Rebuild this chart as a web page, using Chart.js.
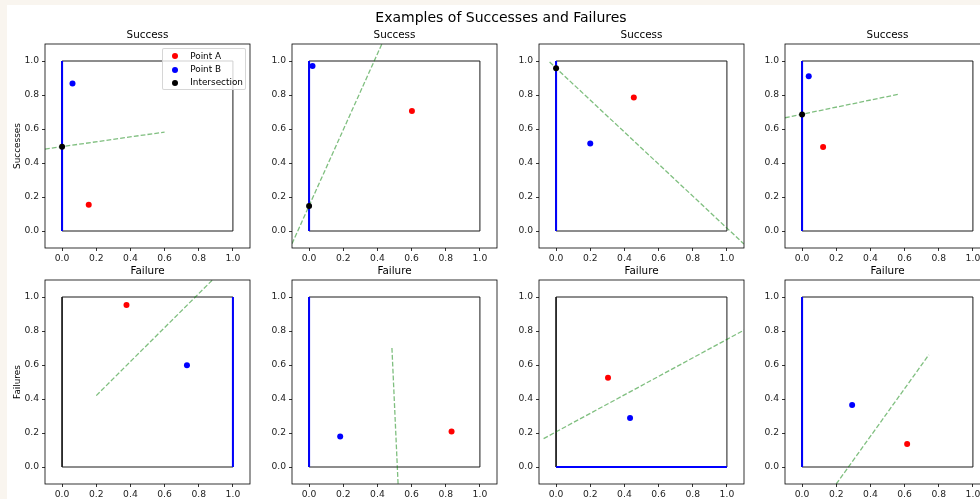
<!DOCTYPE html>
<html>
<head>
<meta charset="utf-8">
<title>Examples of Successes and Failures</title>
<script src="https://cdn.jsdelivr.net/npm/chart.js@4.4.1/dist/chart.umd.min.js"></script>
<style>
    html, body { margin: 0; padding: 0; }
    body {
        width: 980px; height: 499px; overflow: hidden; position: relative;
        background: #f9f5ef; font-family: "DejaVu Sans", sans-serif;
    }
    #figure { position: absolute; left: 7px; top: 5px; width: 1100px; height: 600px; background: #fff; }
    canvas { position: absolute; }
    #suptitle {
        position: absolute; left: 0; top: 9px; width: 1002px; text-align: center;
        font-size: 14px; line-height: 16px; color: #000; z-index: 2;
    }
    .legend {
        position: absolute; box-sizing: border-box; z-index: 2;
        background: rgba(255, 255, 255, 0.8); border: 1px solid rgba(204, 204, 204, 0.8);
        border-radius: 2px; padding-top: 0.3px; font-size: 8.9px; color: #000;
    }
    .legend-row { position: relative; height: 13.35px; line-height: 13.35px; padding-left: 27.3px; white-space: nowrap; }
    .legend-dot { position: absolute; left: 8.7px; top: 3.7px; width: 6px; height: 6px; border-radius: 50%; }
</style>
</head>
<body>
<div id="figure"></div>
<div id="suptitle">Examples of Successes and Failures</div>
<script>
// ---------------------------------------------------------------------------
// Data
// ---------------------------------------------------------------------------
const PANEL_TITLES = ["Success", "Success", "Success", "Success", "Failure", "Failure", "Failure", "Failure"];
const ROW_LABELS = ["Successes", "Failures"];
const TICKS = [0.0, 0.2, 0.4, 0.6, 0.8, 1.0];
const AXIS_MIN = -0.1;
const AXIS_MAX = 1.1;

const SQUARE = [[0, 0], [1, 0], [1, 1], [0, 1], [0, 0]];
const SIDES = {
    left: [[0, 0], [0, 1]],
    right: [[1, 0], [1, 1]],
    bottom: [[0, 0], [1, 0]],
};
const HIGHLIGHT = ["left", "left", "left", "left", "right", "left", "bottom", "left"];

const POINT_A = [[0.156, 0.155], [0.602, 0.706], [0.455, 0.785], [0.123, 0.494],
                 [0.377, 0.953], [0.834, 0.209], [0.304, 0.525], [0.615, 0.135]];
const POINT_B = [[0.061, 0.867], [0.020, 0.970], [0.200, 0.514], [0.039, 0.910],
                 [0.731, 0.598], [0.182, 0.180], [0.433, 0.288], [0.293, 0.365]];
const INTERSECTION = [[0, 0.496], [0, 0.147], [0, 0.958], [0, 0.685], null, null, null, null];
const BISECTOR = [
    [[-0.1, 0.482], [0.600, 0.582]],
    [[-0.1, -0.075], [0.426, 1.1]],
    [[-0.038, 0.994], [1.1, -0.077]],
    [[-0.1, 0.666], [0.572, 0.806]],
    [[0.200, 0.420], [0.880, 1.1]],
    [[0.485, 0.700], [0.521, -0.1]],
    [[-0.073, 0.167], [1.1, 0.805]],
    [[0.200, -0.1], [0.742, 0.660]],
];
const LEGEND_LABELS = ["Point A", "Point B", "Intersection"];

// ---------------------------------------------------------------------------
// Layout
// ---------------------------------------------------------------------------
const COL_X = [45, 292, 539, 785];
const ROW_Y = [44, 280];
const AREA_W = 205, AREA_H = 204;
const Y_AXIS_W = 45, X_AXIS_H = 24, TITLE_H = 30, PAD_R = 10;
const TITLE_PAD_TOP = 15.5;
const FONT = "DejaVu Sans";

Chart.defaults.font.family = FONT;

const xy = pts => pts.map(([x, y]) => ({ x, y }));

function pointSet(label, p, color) {
    return {
        label, data: xy([p]), showLine: false,
        pointRadius: 3, pointHoverRadius: 3, pointBorderWidth: 0,
        pointBackgroundColor: color, backgroundColor: color, borderColor: color,
    };
}

function lineSet(pts, color, width, dash) {
    return {
        data: xy(pts), showLine: true, pointRadius: 0, pointHoverRadius: 0,
        borderColor: color, borderWidth: width, borderDash: dash, fill: false, tension: 0,
    };
}

const framePlugin = {
    id: "frame",
    afterDatasetsDraw(chart) {
        const { ctx, chartArea: a } = chart;
        ctx.save();
        ctx.strokeStyle = "#000";
        ctx.lineWidth = 0.8;
        ctx.strokeRect(a.left, a.top, a.right - a.left, a.bottom - a.top);
        ctx.restore();
    },
};

function axis(extra) {
    return Object.assign({
        type: "linear", min: AXIS_MIN, max: AXIS_MAX,
        afterBuildTicks: s => { s.ticks = TICKS.map(v => ({ value: v })); },
        grid: { display: true, drawOnChartArea: false, drawTicks: true, tickLength: 3, tickColor: "#000", tickWidth: 0.8 },
        border: { display: false },
    }, extra);
}

// ---------------------------------------------------------------------------
// Panels
// ---------------------------------------------------------------------------
function makePanel(i) {
    const row = Math.floor(i / 4), col = i % 4;
    const left = COL_X[col] - Y_AXIS_W, top = ROW_Y[row] - TITLE_H;
    const canvas = document.createElement("canvas");
    canvas.width = Y_AXIS_W + AREA_W + PAD_R;
    canvas.height = TITLE_H + AREA_H + X_AXIS_H;
    canvas.style.left = left + "px";
    canvas.style.top = top + "px";
    document.body.appendChild(canvas);

    // first dataset is drawn on top
    const datasets = [];
    if (INTERSECTION[i]) datasets.push(pointSet("Intersection", INTERSECTION[i], "#000000"));
    datasets.push(pointSet("Point B", POINT_B[i], "#0000ff"));
    datasets.push(pointSet("Point A", POINT_A[i], "#ff0000"));
    datasets.push(lineSet(BISECTOR[i], "rgba(0, 128, 0, 0.5)", 1.3, [4.8, 2.1]));
    datasets.push(lineSet(SIDES[HIGHLIGHT[i]], "#0000ff", 2, []));
    datasets.push(lineSet(SQUARE, "#1a1a1a", 1, []));

    const tickFont = { family: FONT, size: 9.2 };
    const chart = new Chart(canvas, {
        type: "scatter",
        data: { datasets },
        plugins: [framePlugin],
        options: {
            responsive: false,
            animation: false,
            events: [],
            layout: { padding: { left: 0, top: 0, bottom: 0, right: PAD_R } },
            plugins: {
                legend: { display: false },
                tooltip: { enabled: false },
                title: {
                    display: true, fullSize: false, text: PANEL_TITLES[i], color: "#000",
                    font: { family: FONT, size: 10.4, weight: "normal", lineHeight: 1.2 },
                    padding: { top: TITLE_PAD_TOP, bottom: TITLE_H - TITLE_PAD_TOP - 12.48 },
                },
            },
            scales: {
                x: axis({
                    position: "bottom",
                    afterFit: s => { s.height = X_AXIS_H; },
                    ticks: { padding: 2, color: "#222", font: tickFont, autoSkip: false, maxRotation: 0, callback: v => v.toFixed(1) },
                }),
                y: axis({
                    position: "left",
                    afterFit: s => { s.width = Y_AXIS_W; },
                    ticks: { padding: 3, color: "#222", font: tickFont, autoSkip: false, callback: v => v.toFixed(1) },
                    title: {
                        display: col === 0, text: ROW_LABELS[row], color: "#000",
                        font: { family: FONT, size: 8.9, lineHeight: 1.2 },
                        padding: { top: 12.2, bottom: 0 },
                    },
                }),
            },
        },
    });
    return { chart, left, top };
}

// ---------------------------------------------------------------------------
// Legend (upper right, first panel only)
// ---------------------------------------------------------------------------
function addLegend({ chart, left, top }) {
    const a = chart.chartArea;
    const w = 83.7, inset = 4.4;
    const box = document.createElement("div");
    box.className = "legend";
    box.style.left = (left + a.right - inset - w) + "px";
    box.style.top = (top + a.top + inset) + "px";
    box.style.width = w + "px";
    box.style.height = "42px";

    let html = "";
    for (const name of LEGEND_LABELS) {
        const ds = chart.data.datasets.find(d => d.label === name);
        if (!ds) continue;
        html += `<div class="legend-row"><span class="legend-dot" style="background:${ds.pointBackgroundColor}"></span>${name}</div>`;
    }
    box.innerHTML = html;
    document.body.appendChild(box);
}

const panels = PANEL_TITLES.map((_, i) => makePanel(i));
addLegend(panels[0]);
</script>
</body>
</html>
